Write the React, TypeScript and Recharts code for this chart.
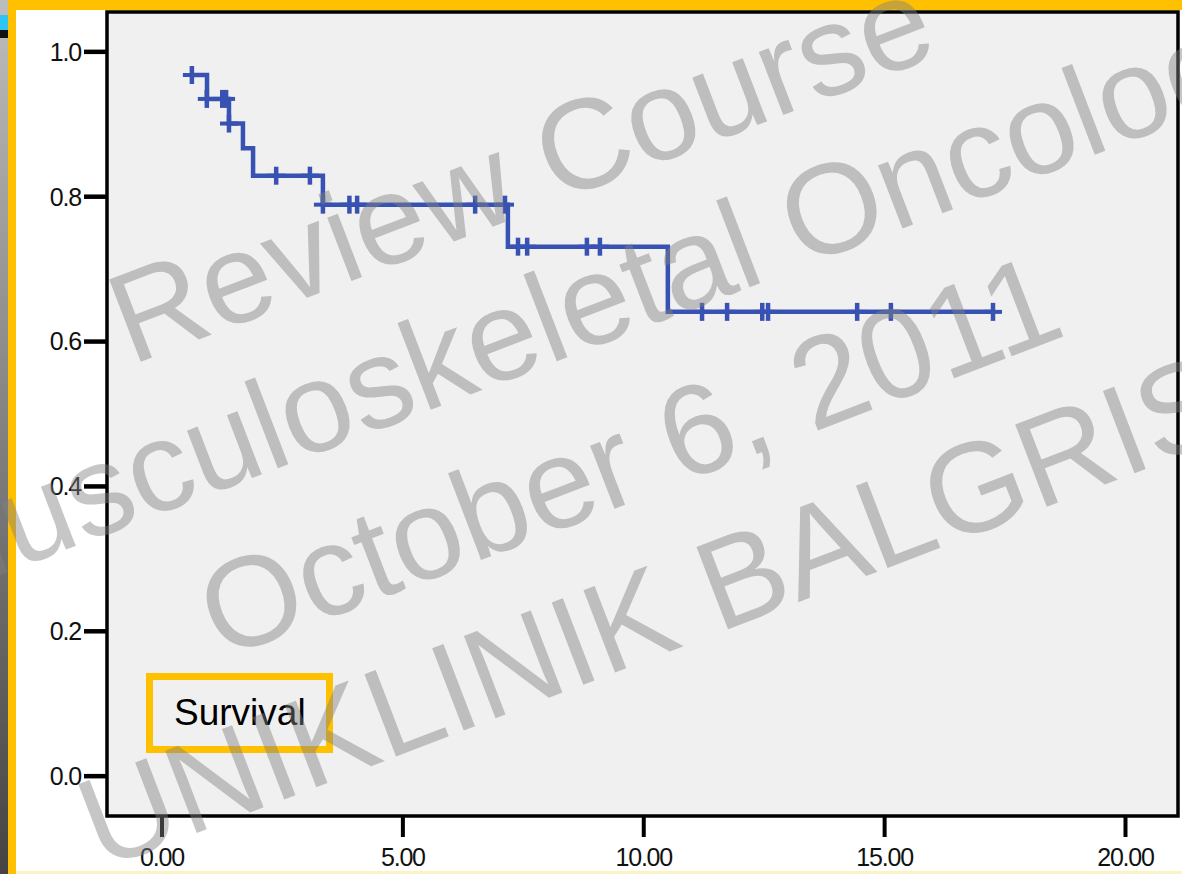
import {
  ComposedChart,
  Line,
  Scatter,
  XAxis,
  YAxis,
  CartesianGrid,
  ReferenceArea,
  Legend,
} from "recharts";

// Kaplan-Meier steps (time, cumulative survival)
const STEP_TIMES = [0.62, 0.934, 1.39, 1.68, 1.89, 3.34, 7.18, 10.5, 17.25];
const STEP_SURV = [0.968, 0.935, 0.901, 0.867, 0.829, 0.789, 0.731, 0.641, 0.641];

// censored cases
const CENSOR_TIMES = [
  0.62, 0.93, 1.25, 1.33, 1.39, 2.37, 3.07, 3.34, 3.89, 4.05, 6.5, 7.12, 7.39,
  7.58, 8.82, 9.09, 11.21, 11.73, 12.46, 12.58, 14.43, 15.13, 17.25,
];
const CENSOR_SURV = [
  0.968, 0.935, 0.935, 0.935, 0.901, 0.829, 0.829, 0.789, 0.789, 0.789, 0.789,
  0.789, 0.731, 0.731, 0.731, 0.731, 0.641, 0.641, 0.641, 0.641, 0.641, 0.641,
  0.641,
];

const X_TICKS = [0, 5, 10, 15, 20];
const Y_TICKS = [0, 0.2, 0.4, 0.6, 0.8, 1.0];
const SERIES_NAME = "Survival";
const WATERMARK_LINES = [
  "Review Course",
  "Musculoskeletal Oncology",
  "October 6, 2011",
  "UNIKLINIK BALGRIST",
];

const X_DOMAIN: [number, number] = [-1.142, 21.09];
const Y_DOMAIN: [number, number] = [-0.055, 1.055];

const BLUE = "#3752b2";
const YELLOW = "#ffc000";
const FONT = "'Liberation Sans', Arial, sans-serif";

// baseline midpoints of the watermark lines
const WM_POS = [
  [536, 210],
  [612, 340],
  [645, 497],
  [705, 638],
];

const stepData = STEP_TIMES.map((t, i) => ({ t, s: STEP_SURV[i] }));
const censorData = CENSOR_TIMES.map((t, i) => ({ t, s: CENSOR_SURV[i] }));

function CensorMark(props: any) {
  const { cx, cy } = props;
  if (cx == null || cy == null) return null;
  return (
    <g>
      <path d={`M${cx - 9},${cy}H${cx + 9}`} stroke={BLUE} strokeWidth={4} fill="none" />
      <path d={`M${cx},${cy - 9}V${cy + 9}`} stroke={BLUE} strokeWidth={4.5} fill="none" />
    </g>
  );
}

function LegendBox() {
  return (
    <div
      style={{
        boxSizing: "border-box",
        width: 187,
        height: 80,
        border: `7px solid ${YELLOW}`,
        background: "#f0f0f0",
        fontFamily: FONT,
        fontSize: 37,
        color: "#000",
        display: "flex",
        alignItems: "center",
        paddingLeft: 21,
      }}
    >
      {SERIES_NAME}
    </div>
  );
}

const abs = (s: React.CSSProperties): React.CSSProperties => ({
  position: "absolute",
  zIndex: 5,
  ...s,
});

export default function App() {
  return (
    <div
      style={{
        position: "fixed",
        left: 0,
        top: 0,
        width: 1182,
        height: 874,
        background: "#fff",
        overflow: "hidden",
      }}
    >
      <div style={{ position: "absolute", left: 0, top: 0 }}>
        <ComposedChart
          width={1182}
          height={874}
          margin={{ top: 12, right: 4, bottom: 8, left: 17 }}
        >
          <CartesianGrid horizontal={false} vertical={false} fill="#f0f0f0" fillOpacity={1} />
          <XAxis
            type="number"
            dataKey="t"
            domain={X_DOMAIN}
            ticks={X_TICKS}
            interval={0}
            allowDataOverflow
            tickFormatter={(v: number) => v.toFixed(2)}
            axisLine={false}
            tickSize={21}
            tickMargin={11}
            tickLine={{ stroke: "#000", strokeWidth: 4 }}
            tick={{ fontSize: 25, fill: "#111", fontFamily: FONT, letterSpacing: -1.2 }}
            height={50}
          />
          <YAxis
            type="number"
            domain={Y_DOMAIN}
            ticks={Y_TICKS}
            interval={0}
            allowDataOverflow
            tickFormatter={(v: number) => v.toFixed(1)}
            axisLine={false}
            tickSize={23}
            tickMargin={3}
            tickLine={{ stroke: "#000", strokeWidth: 4.5 }}
            tick={{ fontSize: 25, fill: "#111", fontFamily: FONT, letterSpacing: -1.2 }}
            width={90}
          />
          <ReferenceArea
            x1={X_DOMAIN[0]}
            x2={X_DOMAIN[1]}
            y1={Y_DOMAIN[0]}
            y2={Y_DOMAIN[1]}
            fill="none"
            stroke="#000"
            strokeWidth={3.5}
            ifOverflow="visible"
          />
          <Line
            data={stepData}
            dataKey="s"
            name={SERIES_NAME}
            type="stepAfter"
            stroke={BLUE}
            strokeWidth={4.5}
            dot={false}
            isAnimationActive={false}
          />
          <Scatter
            data={censorData}
            dataKey="s"
            shape={CensorMark}
            isAnimationActive={false}
          />
          <Legend
            layout="vertical"
            align="center"
            verticalAlign="middle"
            wrapperStyle={{ left: 146, top: 673, width: 187, height: 80 }}
            content={() => <LegendBox />}
          />
        </ComposedChart>
      </div>

      {/* page frame */}
      <div style={abs({ left: 0, top: 0, width: 8, height: 874, background: "linear-gradient(to bottom, #bdbdbd, #444)" })} />
      <div style={abs({ left: 0, top: 15, width: 8, height: 15, background: "#2ec4f4" })} />
      <div style={abs({ left: 0, top: 30, width: 8, height: 8, background: "#111" })} />
      <div style={abs({ left: 8, top: 0, width: 1174, height: 10, background: YELLOW })} />
      <div style={abs({ left: 8, top: 0, width: 8, height: 874, background: YELLOW })} />
      <div style={abs({ left: 16, top: 871, width: 1166, height: 3, background: "#fbf2c6" })} />

      {/* watermark over everything */}
      <svg
        width={1182}
        height={874}
        style={{ position: "absolute", left: 0, top: 0, zIndex: 10, pointerEvents: "none" }}
      >
        {WATERMARK_LINES.map((txt, i) => {
          const [x, y] = WM_POS[i];
          return (
            <text
              key={txt}
              x={x}
              y={y}
              textAnchor="middle"
              transform={`rotate(-21 ${x} ${y})`}
              fontSize={128}
              fontFamily={FONT}
              fill="rgb(128,128,128)"
              fillOpacity={0.45}
            >
              {txt}
            </text>
          );
        })}
      </svg>
    </div>
  );
}
